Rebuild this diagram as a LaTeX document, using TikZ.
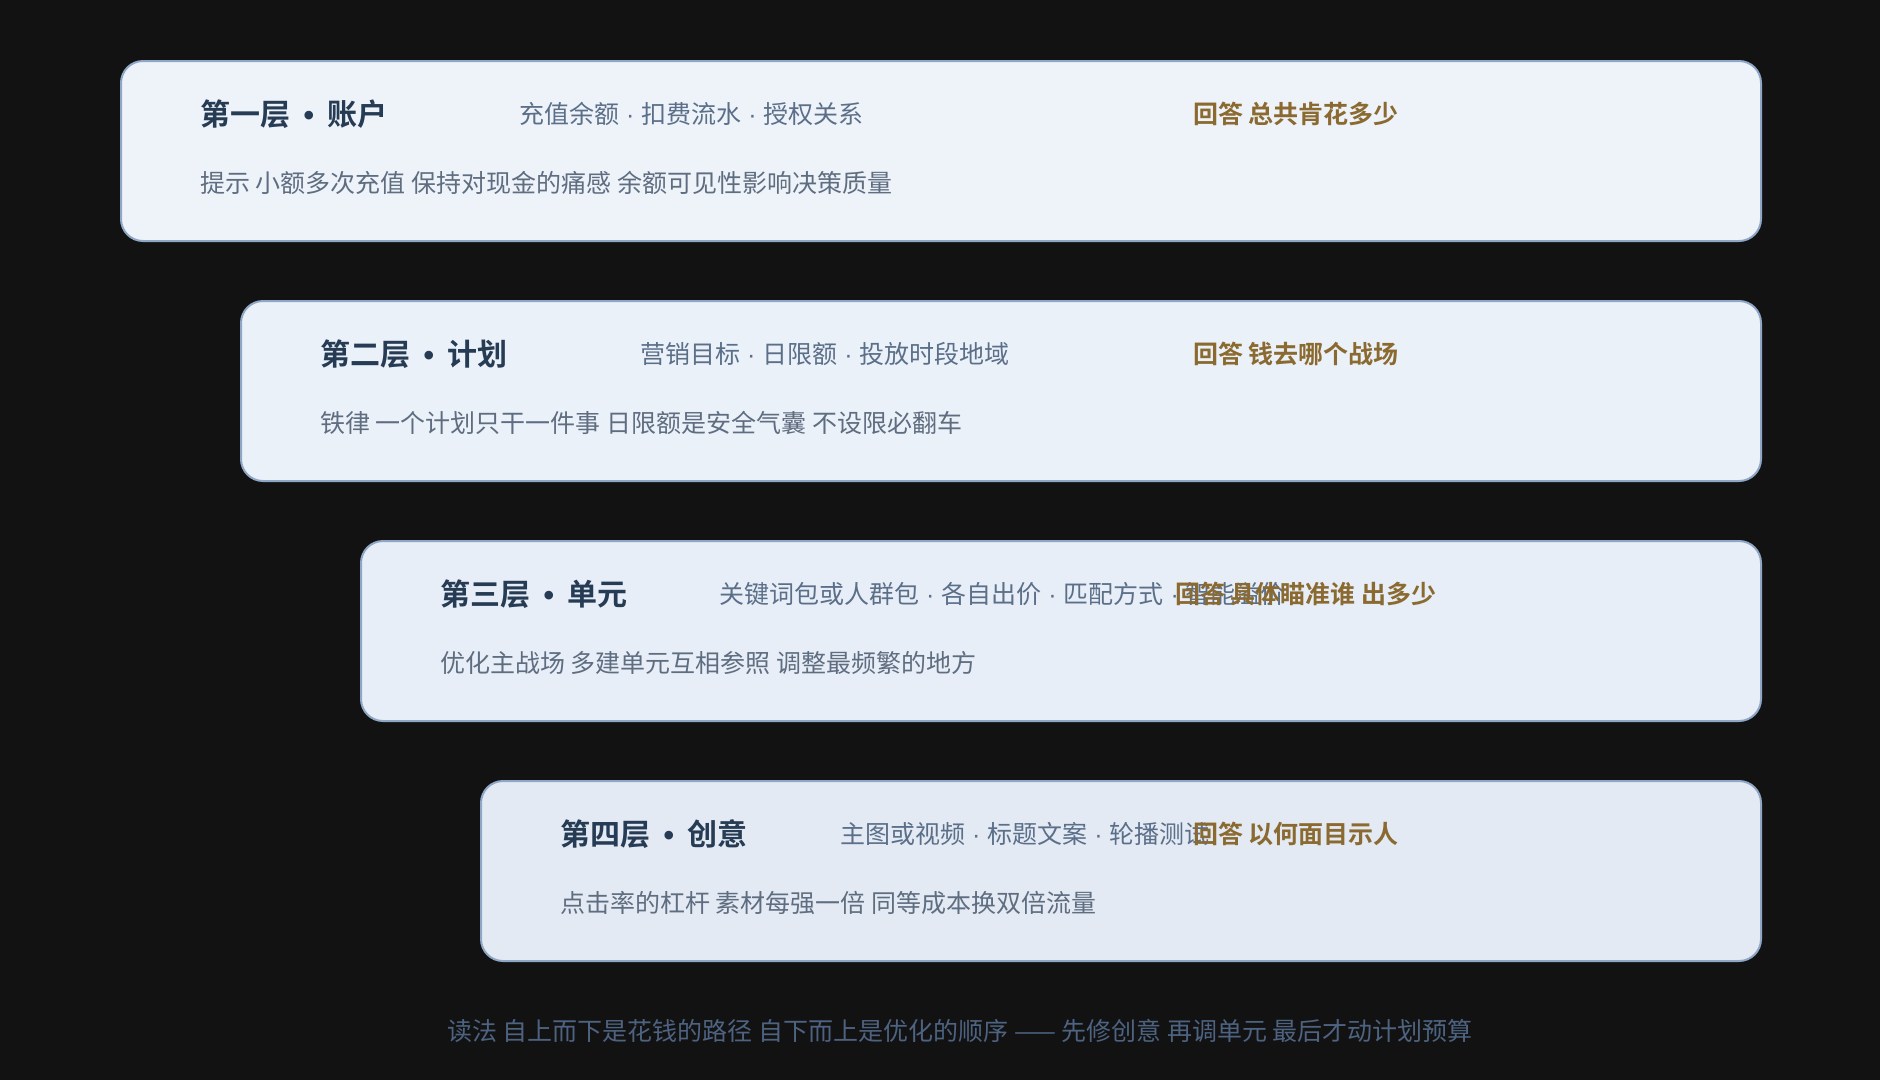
\documentclass[tikz,border=0pt]{standalone}
\usepackage{fontspec}
\setmainfont{Noto Sans CJK SC}
\newfontfamily\cjk{Noto Sans CJK SC}
\newfontfamily\cjkb{Noto Sans CJK SC Bold}
\newfontfamily\latin{Liberation Sans}
\newfontfamily\latinb{Liberation Sans Bold}
\newcommand{\msep}{{\latin\ ·\ }}
\newcommand{\bsep}{{\latinb\ \,•\,\ }}
\definecolor{bg}{HTML}{121212}
\definecolor{boxline}{HTML}{8FA7C6}
\definecolor{fillA}{HTML}{EEF3FA}
\definecolor{fillB}{HTML}{EBF1F9}
\definecolor{fillC}{HTML}{E7EEF7}
\definecolor{fillD}{HTML}{E3EAF4}
\definecolor{titlec}{HTML}{263B54}
\definecolor{subc}{HTML}{5B6F89}
\definecolor{ansc}{HTML}{8A6A30}
\definecolor{detc}{HTML}{5E6D80}
\definecolor{footc}{HTML}{4D6381}
\tikzset{
  layer/.style={draw=boxline, line width=2pt, rounded corners=22pt, inner sep=0pt, anchor=north west},
  ltitle/.style={anchor=west, inner sep=0pt, text=titlec, font=\cjkb\fontsize{30}{34}\selectfont},
  lsub/.style={anchor=west, inner sep=0pt, text=subc, font=\cjk\fontsize{25}{30}\selectfont},
  lans/.style={anchor=west, inner sep=0pt, text=ansc, font=\cjkb\fontsize{25}{30}\selectfont},
  ldet/.style={anchor=west, inner sep=0pt, text=detc, font=\cjk\fontsize{25}{30}\selectfont},
  lfoot/.style={anchor=center, inner sep=0pt, text=footc, font=\cjk\fontsize{25}{30}\selectfont},
}
\begin{document}
\begin{tikzpicture}[x=1pt,y=-1pt]
\fill[bg] (0,0) rectangle (1880,1080);
\useasboundingbox (0,0) rectangle (1880,1080);

% boxes
\node[layer, fill=fillA, minimum width=1640pt, minimum height=180pt] (b1) at (120,60) {};
\node[layer, fill=fillB, minimum width=1520pt, minimum height=180pt] (b2) at (240,300) {};
\node[layer, fill=fillC, minimum width=1400pt, minimum height=180pt] (b3) at (360,540) {};
\node[layer, fill=fillD, minimum width=1280pt, minimum height=180pt] (b4) at (480,780) {};

% row 1
\node[ltitle] (t1) at (200,114) {第一层\bsep 账户};
\node[lsub] (s1) at (519,114) {充值余额\msep 扣费流水\msep 授权关系};
\node[lans] (a1) at (1193,114) {回答 总共肯花多少};
\node[ldet] (d1) at (200,183) {提示 小额多次充值 保持对现金的痛感 余额可见性影响决策质量};

% row 2
\node[ltitle] (t2) at (320,354) {第二层\bsep 计划};
\node[lsub] (s2) at (640,354) {营销目标\msep 日限额\msep 投放时段地域};
\node[lans] (a2) at (1193,354) {回答 钱去哪个战场};
\node[ldet] (d2) at (320,423) {铁律 一个计划只干一件事 日限额是安全气囊 不设限必翻车};

% row 3
\node[ltitle] (t3) at (440,594) {第三层\bsep 单元};
\node[lsub] (s3) at (719,594) {关键词包或人群包\msep 各自出价\msep 匹配方式\msep 智能溢价};
\node[lans] (a3) at (1175,594) {回答 具体瞄准谁 出多少};
\node[ldet] (d3) at (440,663) {优化主战场 多建单元互相参照 调整最频繁的地方};

% row 4
\node[ltitle] (t4) at (560,834) {第四层\bsep 创意};
\node[lsub] (s4) at (840,834) {主图或视频\msep 标题文案\msep 轮播测试};
\node[lans] (a4) at (1193,834) {回答 以何面目示人};
\node[ldet] (d4) at (560,903) {点击率的杠杆 素材每强一倍 同等成本换双倍流量};

% footer
\node[lfoot] (f) at (960,1031) {读法 自上而下是花钱的路径 自下而上是优化的顺序 —— 先修创意 再调单元 最后才动计划预算};
\end{tikzpicture}
\end{document}
